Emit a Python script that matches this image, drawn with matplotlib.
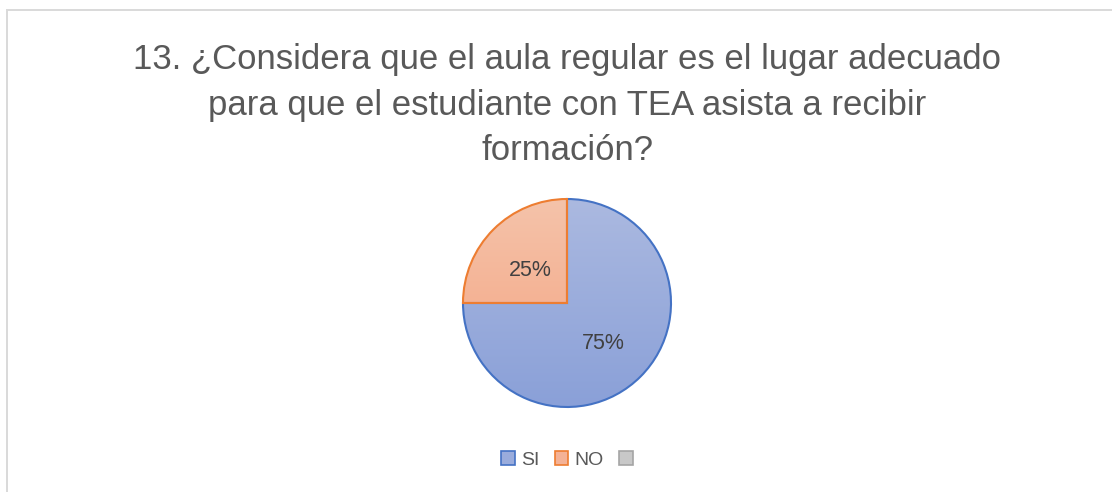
import numpy as np
import matplotlib
matplotlib.use("Agg")
import matplotlib.pyplot as plt
from matplotlib.colors import LinearSegmentedColormap
from matplotlib.patches import Rectangle, Patch

title = "13. ¿Considera que el aula regular es el lugar adecuado\npara que el estudiante con TEA asista a recibir\nformación?"
categories = ["SI", "NO", ""]
values = [75, 25, 0]
labels_pct = ["75%", "25%"]

W, H = 1112, 492
fig = plt.figure(figsize=(W / 100, H / 100), dpi=100)
fig.patch.set_facecolor("white")
ax = fig.add_axes([0, 0, 1, 1])

# chart border
fig.patches.append(Rectangle((6.5 / W, -0.1), 1.2, (H - 9.5) / H + 0.1, transform=fig.transFigure,
                             fill=False, edgecolor="#D9D9D9", linewidth=1.4))

cx, cy, r = 567, H - 303, 104
edge_cols = ["#4472C4", "#ED7D31"]
grad = [("#ABB9E0", "#8AA0D8"), ("#F5C3AA", "#F3A27F")]

wedges, texts = ax.pie(values[:2], startangle=90, counterclock=False, center=(cx, cy), radius=r,
                       wedgeprops=dict(linewidth=1.5), frame=True)
ax.set_xlim(0, W)
ax.set_ylim(0, H)
ax.set_aspect("equal")
ax.axis("off")
for i, w in enumerate(wedges):
    w.set_facecolor("none")
    w.set_edgecolor(edge_cols[i])
    w.set_zorder(3)
    cmap = LinearSegmentedColormap.from_list("g%d" % i, [grad[i][0], grad[i][1]])
    g = np.linspace(0, 1, 256).reshape(-1, 1)
    im = ax.imshow(g, cmap=cmap, extent=(cx - r, cx + r, cy - r, cy + r), origin="upper",
                   aspect="auto", zorder=2)
    im.set_clip_path(w)
    th = np.deg2rad((w.theta1 + w.theta2) / 2)
    d = 0.5 * r
    ax.text(cx + d * np.cos(th), cy + d * np.sin(th) - 4, labels_pct[i], ha="center", va="center",
            fontsize=15.5, color="#404040", family="Liberation Sans", zorder=4)

fig.text(567 / W, 1 - 105 / H, title, ha="center", va="center", fontsize=25, color="#595959",
         family="Liberation Sans", linespacing=1.48)

handles = [Patch(facecolor="#9AACDC", edgecolor="#4472C4", lw=1.2),
           Patch(facecolor="#F4B296", edgecolor="#ED7D31", lw=1.2),
           Patch(facecolor="#C8C8C8", edgecolor="#A5A5A5", lw=1.2)]
leg = fig.legend(handles, categories, loc="center", bbox_to_anchor=(570 / W, 1 - 460 / H), ncol=3,
                 frameon=False, handlelength=0.7, handleheight=0.7, handletextpad=0.3,
                 columnspacing=0.8, prop={"family": "Liberation Sans", "size": 14})
for t in leg.get_texts():
    t.set_color("#595959")

fig.savefig("out.png", dpi=100, facecolor="white")
